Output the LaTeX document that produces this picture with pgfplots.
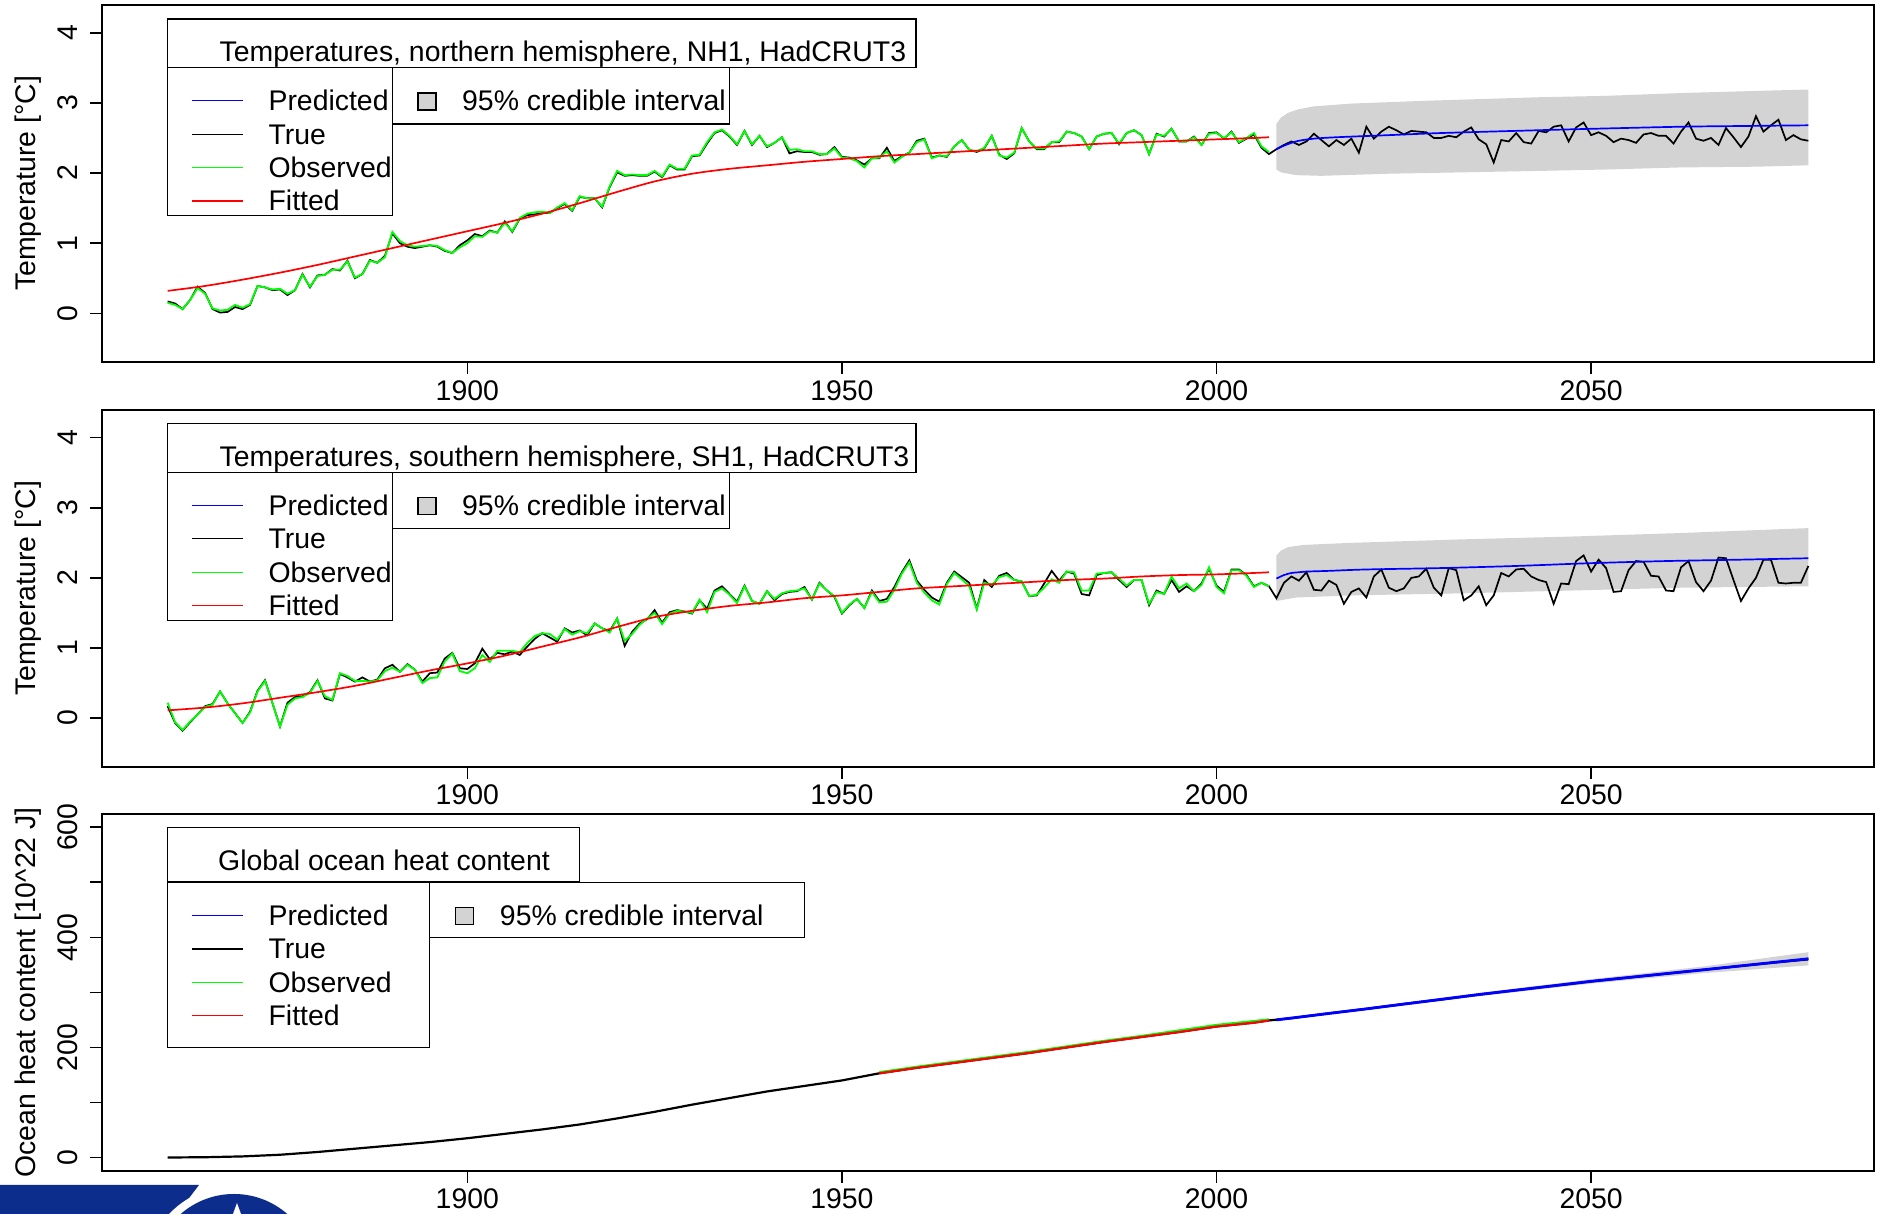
\documentclass[border=0pt]{standalone}
\usepackage{fontspec}
\setmainfont{Liberation Sans}
\usepackage{pgfplots}
\usepackage{pgfplotstable}
\pgfplotsset{compat=1.18}

\definecolor{Rgreen}{RGB}{0,255,0}
\definecolor{Rblue}{RGB}{0,0,255}
\definecolor{Rred}{RGB}{255,0,0}
\definecolor{Rgray}{RGB}{211,211,211}
\definecolor{logoblue}{RGB}{12,45,140}

\pgfplotstableread{
year true obs
1860 0.17 0.15
1861 0.14 0.12
1862 0.06 0.06
1863 0.19 0.19
1864 0.38 0.36
1865 0.29 0.28
1866 0.06 0.07
1867 0.01 0.04
1868 0.02 0.05
1869 0.09 0.12
1870 0.06 0.08
1871 0.12 0.13
1872 0.39 0.39
1873 0.37 0.37
1874 0.33 0.34
1875 0.34 0.35
1876 0.26 0.28
1877 0.33 0.33
1878 0.56 0.55
1879 0.37 0.38
1880 0.54 0.53
1881 0.55 0.55
1882 0.63 0.62
1883 0.61 0.62
1884 0.75 0.74
1885 0.50 0.51
1886 0.56 0.56
1887 0.76 0.75
1888 0.72 0.72
1889 0.82 0.80
1890 1.14 1.16
1891 1.00 1.03
1892 0.95 0.97
1893 0.93 0.95
1894 0.95 0.96
1895 0.97 0.97
1896 0.95 0.96
1897 0.89 0.90
1898 0.86 0.86
1899 0.97 0.94
1900 1.04 1.00
1901 1.13 1.10
1902 1.10 1.09
1903 1.18 1.17
1904 1.15 1.15
1905 1.31 1.29
1906 1.16 1.17
1907 1.35 1.36
1908 1.40 1.42
1909 1.41 1.44
1910 1.43 1.45
1911 1.43 1.43
1912 1.50 1.51
1913 1.56 1.57
1914 1.46 1.47
1915 1.66 1.67
1916 1.64 1.64
1917 1.64 1.64
1918 1.51 1.52
1919 1.80 1.81
1920 2.01 2.03
1921 1.96 1.97
1922 1.97 1.98
1923 1.96 1.97
1924 1.96 1.97
1925 2.02 2.03
1926 1.94 1.95
1927 2.11 2.12
1928 2.05 2.06
1929 2.05 2.06
1930 2.24 2.25
1931 2.25 2.26
1932 2.42 2.44
1933 2.57 2.58
1934 2.61 2.62
1935 2.52 2.53
1936 2.40 2.41
1937 2.60 2.60
1938 2.40 2.41
1939 2.53 2.53
1940 2.37 2.38
1941 2.43 2.43
1942 2.51 2.51
1943 2.28 2.33
1944 2.31 2.34
1945 2.30 2.31
1946 2.30 2.31
1947 2.26 2.27
1948 2.27 2.27
1949 2.37 2.35
1950 2.23 2.22
1951 2.22 2.21
1952 2.18 2.17
1953 2.12 2.08
1954 2.21 2.21
1955 2.21 2.22
1956 2.36 2.31
1957 2.17 2.15
1958 2.24 2.23
1959 2.29 2.29
1960 2.46 2.44
1961 2.49 2.48
1962 2.22 2.21
1963 2.25 2.25
1964 2.23 2.24
1965 2.38 2.38
1966 2.47 2.47
1967 2.33 2.33
1968 2.30 2.31
1969 2.35 2.36
1970 2.53 2.53
1971 2.26 2.25
1972 2.20 2.22
1973 2.28 2.29
1974 2.64 2.64
1975 2.45 2.45
1976 2.34 2.35
1977 2.34 2.35
1978 2.44 2.44
1979 2.44 2.45
1980 2.59 2.59
1981 2.57 2.57
1982 2.52 2.52
1983 2.34 2.34
1984 2.52 2.52
1985 2.56 2.56
1986 2.57 2.57
1987 2.41 2.42
1988 2.57 2.57
1989 2.61 2.61
1990 2.54 2.54
1991 2.27 2.27
1992 2.56 2.55
1993 2.52 2.53
1994 2.63 2.63
1995 2.45 2.45
1996 2.45 2.45
1997 2.52 2.51
1998 2.40 2.40
1999 2.57 2.56
2000 2.58 2.57
2001 2.49 2.50
2002 2.59 2.58
2003 2.43 2.44
2004 2.49 2.50
2005 2.55 2.57
2006 2.36 2.38
2007 2.27 2.30
2008 2.34 nan
2009 2.40 nan
2010 2.45 nan
2011 2.40 nan
2012 2.45 nan
2013 2.56 nan
2014 2.47 nan
2015 2.38 nan
2016 2.47 nan
2017 2.40 nan
2018 2.49 nan
2019 2.29 nan
2020 2.66 nan
2021 2.49 nan
2022 2.59 nan
2023 2.66 nan
2024 2.61 nan
2025 2.55 nan
2026 2.60 nan
2027 2.59 nan
2028 2.58 nan
2029 2.50 nan
2030 2.50 nan
2031 2.53 nan
2032 2.51 nan
2033 2.59 nan
2034 2.65 nan
2035 2.48 nan
2036 2.41 nan
2037 2.15 nan
2038 2.47 nan
2039 2.45 nan
2040 2.57 nan
2041 2.44 nan
2042 2.42 nan
2043 2.60 nan
2044 2.58 nan
2045 2.66 nan
2046 2.68 nan
2047 2.45 nan
2048 2.65 nan
2049 2.72 nan
2050 2.54 nan
2051 2.58 nan
2052 2.53 nan
2053 2.44 nan
2054 2.49 nan
2055 2.47 nan
2056 2.43 nan
2057 2.55 nan
2058 2.57 nan
2059 2.53 nan
2060 2.53 nan
2061 2.42 nan
2062 2.59 nan
2063 2.72 nan
2064 2.49 nan
2065 2.46 nan
2066 2.50 nan
2067 2.40 nan
2068 2.64 nan
2069 2.51 nan
2070 2.37 nan
2071 2.52 nan
2072 2.81 nan
2073 2.59 nan
2074 2.68 nan
2075 2.76 nan
2076 2.47 nan
2077 2.54 nan
2078 2.48 nan
2079 2.46 nan
}\nhdata

\pgfplotstableread{
year fit
1860 0.32
1865 0.39
1870 0.48
1875 0.58
1880 0.69
1885 0.81
1890 0.93
1895 1.05
1900 1.17
1905 1.29
1910 1.42
1915 1.57
1920 1.73
1925 1.88
1930 1.99
1935 2.06
1940 2.11
1945 2.16
1950 2.20
1955 2.24
1960 2.27
1965 2.30
1970 2.33
1975 2.36
1980 2.39
1985 2.42
1990 2.44
1995 2.46
2000 2.48
2005 2.50
2007 2.51
}\nhfit

\pgfplotstableread{
year pred
2008 2.34
2009 2.39
2010 2.43
2011 2.46
2013 2.49
2016 2.51
2023 2.54
2030 2.57
2043 2.61
2050 2.63
2062 2.66
2070 2.67
2079 2.68
}\nhpred

\pgfplotstableread{
year true obs
1860 0.17 0.22
1861 -0.07 -0.06
1862 -0.18 -0.17
1863 -0.06 -0.05
1864 0.05 0.05
1865 0.17 0.16
1866 0.20 0.19
1867 0.38 0.38
1868 0.21 0.21
1869 0.07 0.07
1870 -0.07 -0.07
1871 0.09 0.08
1872 0.39 0.38
1873 0.54 0.53
1874 0.21 0.21
1875 -0.12 -0.12
1876 0.22 0.19
1877 0.30 0.28
1878 0.31 0.30
1879 0.37 0.36
1880 0.54 0.53
1881 0.28 0.31
1882 0.25 0.26
1883 0.63 0.64
1884 0.58 0.60
1885 0.52 0.53
1886 0.58 0.53
1887 0.52 0.52
1888 0.55 0.54
1889 0.71 0.67
1890 0.76 0.72
1891 0.66 0.66
1892 0.77 0.76
1893 0.69 0.69
1894 0.52 0.50
1895 0.64 0.57
1896 0.65 0.58
1897 0.85 0.81
1898 0.93 0.92
1899 0.71 0.67
1900 0.70 0.64
1901 0.78 0.71
1902 0.99 0.90
1903 0.84 0.80
1904 0.93 0.96
1905 0.91 0.96
1906 0.95 0.96
1907 0.90 0.94
1908 1.02 1.07
1909 1.13 1.17
1910 1.21 1.21
1911 1.15 1.20
1912 1.09 1.12
1913 1.28 1.27
1914 1.22 1.19
1915 1.25 1.24
1916 1.18 1.21
1917 1.35 1.35
1918 1.28 1.28
1919 1.24 1.22
1920 1.42 1.42
1921 1.03 1.10
1922 1.23 1.20
1923 1.35 1.33
1924 1.41 1.42
1925 1.54 1.50
1926 1.36 1.34
1927 1.51 1.49
1928 1.54 1.53
1929 1.52 1.52
1930 1.49 1.50
1931 1.68 1.69
1932 1.56 1.51
1933 1.82 1.80
1934 1.88 1.85
1935 1.77 1.76
1936 1.66 1.64
1937 1.89 1.88
1938 1.67 1.67
1939 1.63 1.63
1940 1.81 1.81
1941 1.68 1.70
1942 1.77 1.78
1943 1.80 1.81
1944 1.81 1.82
1945 1.87 1.85
1946 1.69 1.69
1947 1.93 1.92
1948 1.82 1.82
1949 1.73 1.74
1950 1.49 1.50
1951 1.61 1.62
1952 1.70 1.70
1953 1.57 1.57
1954 1.82 1.80
1955 1.67 1.65
1956 1.70 1.66
1957 1.87 1.83
1958 2.08 2.06
1959 2.25 2.22
1960 1.96 1.93
1961 1.83 1.79
1962 1.72 1.68
1963 1.66 1.62
1964 1.93 1.91
1965 2.09 2.07
1966 2.01 1.98
1967 1.93 1.88
1968 1.56 1.55
1969 1.97 1.93
1970 1.87 1.90
1971 2.03 2.01
1972 2.07 2.04
1973 1.97 1.97
1974 1.95 1.95
1975 1.74 1.74
1976 1.75 1.76
1977 1.92 1.86
1978 2.10 1.98
1979 1.96 1.93
1980 2.09 2.09
1981 2.06 2.08
1982 1.77 1.82
1983 1.75 1.82
1984 2.04 2.06
1985 2.07 2.07
1986 2.08 2.08
1987 1.97 1.99
1988 1.87 1.89
1989 1.97 1.97
1990 1.97 1.97
1991 1.61 1.63
1992 1.82 1.80
1993 1.77 1.77
1994 1.97 2.02
1995 1.80 1.85
1996 1.88 1.92
1997 1.81 1.81
1998 1.92 1.90
1999 2.13 2.15
2000 1.89 1.87
2001 1.80 1.78
2002 2.12 2.11
2003 2.12 2.11
2004 2.04 2.03
2005 1.88 1.87
2006 1.93 1.93
2007 1.88 1.88
2008 1.71 nan
2009 1.93 nan
2010 2.02 nan
2011 1.96 nan
2012 2.08 nan
2013 1.83 nan
2014 1.82 nan
2015 1.96 nan
2016 1.90 nan
2017 1.63 nan
2018 1.80 nan
2019 1.85 nan
2020 1.72 nan
2021 2.02 nan
2022 2.12 nan
2023 1.86 nan
2024 1.81 nan
2025 1.85 nan
2026 2.00 nan
2027 2.02 nan
2028 2.13 nan
2029 1.86 nan
2030 1.75 nan
2031 2.14 nan
2032 2.11 nan
2033 1.68 nan
2034 1.75 nan
2035 1.88 nan
2036 1.61 nan
2037 1.75 nan
2038 2.07 nan
2039 2.02 nan
2040 2.12 nan
2041 2.13 nan
2042 2.02 nan
2043 1.97 nan
2044 1.94 nan
2045 1.63 nan
2046 1.92 nan
2047 1.91 nan
2048 2.24 nan
2049 2.32 nan
2050 2.09 nan
2051 2.26 nan
2052 2.14 nan
2053 1.80 nan
2054 1.81 nan
2055 2.11 nan
2056 2.24 nan
2057 2.23 nan
2058 2.03 nan
2059 2.02 nan
2060 1.82 nan
2061 1.81 nan
2062 2.15 nan
2063 2.24 nan
2064 1.94 nan
2065 1.81 nan
2066 1.96 nan
2067 2.29 nan
2068 2.28 nan
2069 1.97 nan
2070 1.67 nan
2071 1.85 nan
2072 2.00 nan
2073 2.26 nan
2074 2.26 nan
2075 1.93 nan
2076 1.92 nan
2077 1.93 nan
2078 1.93 nan
2079 2.17 nan
}\shdata

\pgfplotstableread{
year fit
1860 0.11
1865 0.15
1870 0.21
1875 0.29
1880 0.37
1885 0.46
1890 0.57
1895 0.68
1900 0.78
1905 0.89
1910 1.02
1915 1.15
1920 1.30
1925 1.44
1930 1.53
1935 1.60
1940 1.65
1945 1.71
1950 1.75
1955 1.80
1960 1.85
1965 1.88
1970 1.91
1975 1.94
1980 1.97
1985 1.99
1990 2.02
1995 2.04
2000 2.05
2005 2.07
2007 2.08
}\shfit

\pgfplotstableread{
year pred
2008 1.99
2009 2.04
2010 2.07
2011 2.08
2012 2.09
2015 2.10
2020 2.12
2030 2.14
2040 2.17
2050 2.21
2060 2.24
2070 2.26
2079 2.28
}\shpred

\pgfplotstableread{
year true
1860 0
1865 0.5
1870 2
1875 5
1880 10
1885 16
1890 22
1895 28
1900 35
1905 43
1910 51
1915 60
1920 71
1925 83
1930 96
1935 108
1940 120
1945 130
1950 140
1955 153
1960 163
1965 172
1970 181
1975 190
1980 200
1985 210
1990 219
1995 228
2000 238
2005 245
2007 249
2010 253
2015 262
2020 270
2025 279
2030 287
2035 296
2040 304
2045 312
2050 320
2055 327
2060 334
2065 341
2070 348
2075 355
2079 360
}\ohctrue

\pgfplotstableread{
year fit obs
1955 153 155
1960 163 165
1965 172 174
1970 181 183
1975 190 192
1980 200 202
1985 210 212
1990 219 221
1995 228 231
2000 238 241
2005 245 248
2007 249 251
}\ohcfit

\pgfplotstableread{
year pred
2008 250
2020 270
2035 296
2050 320
2065 341
2079 361
}\ohcpred

\newcommand{\tfont}{\fontsize{14.2bp}{17bp}\selectfont}

\pgfplotsset{
  Rpanel/.style={
    scale only axis,
    width=886bp,
    xmin=1851.24, xmax=2087.76,
    axis line style={line width=0.8bp},
    tick align=outside,
    tick pos=left,
    major tick length=6bp,
    every tick/.style={black, line width=0.8bp},
    xtick={1900,1950,2000,2050},
    x tick label style={/pgf/number format/1000 sep={}, /pgf/number format/assume math mode=true, font=\tfont, anchor=north, inner sep=0pt},
    xticklabel shift=3bp,
    y tick label style={/pgf/number format/assume math mode=true, font=\tfont, rotate=90, anchor=south, inner sep=0pt},
    yticklabel shift=6bp,
    every axis y label/.style={at={(axis description cs:-0.03725,0.5)}, rotate=90, anchor=base, font=\tfont, inner sep=0pt},
  }
}

\begin{document}
\tfont
\begin{tikzpicture}[font=\tfont]
\path[use as bounding box] (0,0) rectangle (939.5bp,-607bp);

% ---------------- panel 1
\begin{axis}[Rpanel, at={(51bp,-181bp)}, anchor=south west, height=178.5bp,
  ymin=-0.694, ymax=4.395, ytick={0,1,2,3,4}, ylabel={Temperature [°C]}]
\addplot[fill=Rgray, draw=none] coordinates {(2008,2.05) (2008,2.70) (2008.6,2.79) (2009.6,2.86) (2011,2.91) (2013,2.95) (2018,2.99) (2028,3.03) (2043,3.08) (2052,3.10) (2062,3.14) (2072,3.17) (2079,3.19) (2079,2.11) (2072,2.09) (2062,2.08) (2052,2.05) (2043,2.03) (2033,2.01) (2023,1.99) (2014,1.96) (2010.6,1.97) (2008.6,2.01)} -- cycle;
\addplot[black, line width=0.85bp] table[x=year, y=true] {\nhdata};
\addplot[Rgreen, line width=0.9bp] table[x=year, y=obs] {\nhdata};
\addplot[Rred, line width=0.85bp, smooth] table[x=year, y=fit] {\nhfit};
\addplot[Rblue, line width=0.85bp, smooth] table[x=year, y=pred] {\nhpred};
\end{axis}

% ---------------- panel 2
\begin{axis}[Rpanel, at={(51bp,-383.35bp)}, anchor=south west, height=178.35bp,
  ymin=-0.694, ymax=4.395, ytick={0,1,2,3,4}, ylabel={Temperature [°C]}]
\addplot[fill=Rgray, draw=none] coordinates {(2008,1.67) (2008,2.32) (2008.6,2.39) (2009.6,2.44) (2011.6,2.47) (2018,2.50) (2033,2.55) (2047.5,2.59) (2062,2.64) (2079,2.71) (2079,1.88) (2062,1.86) (2047.5,1.82) (2033,1.78) (2018,1.75) (2010.6,1.72)} -- cycle;
\addplot[black, line width=0.85bp] table[x=year, y=true] {\shdata};
\addplot[Rgreen, line width=0.9bp] table[x=year, y=obs] {\shdata};
\addplot[Rred, line width=0.85bp, smooth] table[x=year, y=fit] {\shfit};
\addplot[Rblue, line width=0.85bp, smooth] table[x=year, y=pred] {\shpred};
\end{axis}

% ---------------- panel 3
\begin{axis}[Rpanel, at={(51bp,-585.35bp)}, anchor=south west, height=178.35bp,
  ymin=-24, ymax=624, ytick={0,100,200,300,400,500,600}, yticklabels={0,,200,,400,,600},
  ylabel={Ocean heat content [10\textasciicircum 22 J]}]
\addplot[fill=Rgray, draw=none] coordinates {(2008,250) (2020,272) (2035,299) (2050,324) (2065,347) (2079,373) (2079,349) (2065,335) (2050,316) (2035,293) (2020,268)} -- cycle;
\addplot[black, line width=1.1bp] table[x=year, y=true] {\ohctrue};
\addplot[Rgreen, line width=1.0bp] table[x=year, y=obs] {\ohcfit};
\addplot[Rred, line width=1.1bp] table[x=year, y=fit] {\ohcfit};
\addplot[Rblue, line width=1.4bp] table[x=year, y=pred] {\ohcpred};
\end{axis}

% ---------------- legends (pixel coordinates of the reference)
\begin{scope}[x=0.5bp, y=-0.5bp, line width=0.6bp]
  % panel 1
  \draw (167.9,19) rectangle (916,67.7);
  \node[anchor=base west, inner sep=0pt] at (219,61.7) {Temperatures, northern hemisphere, NH1, HadCRUT3};
  \draw (167.9,67.7) rectangle (392.7,215.7);
  \draw[Rblue] (191.8,100.7) -- (242.8,100.7);
  \draw[black] (191.8,134.3) -- (242.8,134.3);
  \draw[Rgreen] (191.8,167.7) -- (242.8,167.7);
  \draw[Rred] (191.8,201) -- (242.8,201);
  \node[anchor=base west, inner sep=0pt] at (268,110.7) {Predicted};
  \node[anchor=base west, inner sep=0pt] at (268,144.3) {True};
  \node[anchor=base west, inner sep=0pt] at (268,177.7) {Observed};
  \node[anchor=base west, inner sep=0pt] at (268,211) {Fitted};
  \draw (392.7,67.7) rectangle (729.6,124);
  \draw[fill=Rgray] (418,93) rectangle (436,110);
  \node[anchor=base west, inner sep=0pt] at (461.6,111) {95\% credible interval};
\end{scope}
\begin{scope}[x=0.5bp, y=-0.5bp, line width=0.6bp, yshift=-202.25bp]
  % panel 2
  \draw (167.9,19) rectangle (916,67.7);
  \node[anchor=base west, inner sep=0pt] at (219,61.7) {Temperatures, southern hemisphere, SH1, HadCRUT3};
  \draw (167.9,67.7) rectangle (392.7,215.7);
  \draw[Rblue] (191.8,100.7) -- (242.8,100.7);
  \draw[black] (191.8,134.3) -- (242.8,134.3);
  \draw[Rgreen] (191.8,167.7) -- (242.8,167.7);
  \draw[Rred] (191.8,201) -- (242.8,201);
  \node[anchor=base west, inner sep=0pt] at (268,110.7) {Predicted};
  \node[anchor=base west, inner sep=0pt] at (268,144.3) {True};
  \node[anchor=base west, inner sep=0pt] at (268,177.7) {Observed};
  \node[anchor=base west, inner sep=0pt] at (268,211) {Fitted};
  \draw (392.7,67.7) rectangle (729.6,124);
  \draw[fill=Rgray] (418,93) rectangle (436,110);
  \node[anchor=base west, inner sep=0pt] at (461.6,111) {95\% credible interval};
\end{scope}
\begin{scope}[x=0.5bp, y=-0.5bp, line width=0.6bp]
  % panel 3
  \draw (167.9,827.3) rectangle (579.7,882);
  \node[anchor=base west, inner sep=0pt] at (217.6,870.5) {Global ocean heat content};
  \draw (167.9,882) rectangle (429.9,1047.7);
  \draw[Rblue] (191.8,915.7) -- (242.8,915.7);
  \draw[black] (191.8,949) -- (242.8,949);
  \draw[Rgreen] (191.8,982.3) -- (242.8,982.3);
  \draw[Rred] (191.8,1015.3) -- (242.8,1015.3);
  \node[anchor=base west, inner sep=0pt] at (268,925.7) {Predicted};
  \node[anchor=base west, inner sep=0pt] at (268,959) {True};
  \node[anchor=base west, inner sep=0pt] at (268,992.3) {Observed};
  \node[anchor=base west, inner sep=0pt] at (268,1025.3) {Fitted};
  \draw (429.9,882.7) rectangle (804.6,937.3);
  \draw[fill=Rgray] (455.6,907.3) rectangle (473.6,924.3);
  \node[anchor=base west, inner sep=0pt] at (499.4,926) {95\% credible interval};
  % logo fragment at bottom left
  \fill[logoblue] (0,1185) -- (199,1185) -- (177,1214) -- (0,1214) -- cycle;
  \fill[white] (234,1275) circle (89);
  \fill[logoblue] (234,1275) circle (81);
  \fill[white] (237,1203) -- (233,1214) -- (241,1214) -- cycle;
\end{scope}
\end{tikzpicture}
\end{document}
